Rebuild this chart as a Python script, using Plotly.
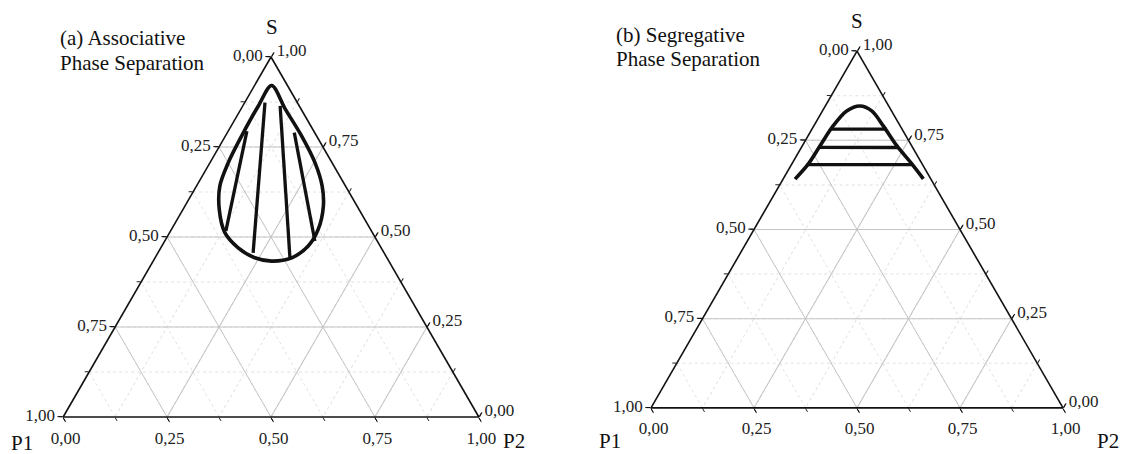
import plotly.graph_objects as go

# ---------------- data (ternary fractions: S = top, P1 = bottom-left, P2 = bottom-right)
tick_values = [0.0, 0.25, 0.5, 0.75, 1.0]
tick_labels = ["0,00", "0,25", "0,50", "0,75", "1,00"]
minor_tick_values = [0.0, 0.125, 0.25, 0.375, 0.5, 0.625, 0.75, 0.875, 1.0]

# (a) associative binodal (teardrop)
assoc_S = [0.921, 0.856, 0.781, 0.706, 0.642, 0.586, 0.521, 0.475, 0.4425, 0.433,
           0.4425, 0.470, 0.512, 0.577, 0.642, 0.706, 0.781, 0.864, 0.921]
assoc_P1 = [0.038, 0.038, 0.036, 0.041, 0.056, 0.081, 0.126, 0.173, 0.229, 0.282,
            0.318, 0.344, 0.355, 0.336, 0.302, 0.250, 0.180, 0.0985, 0.038]
assoc_P2 = [0.041, 0.106, 0.183, 0.253, 0.302, 0.333, 0.353, 0.352, 0.329, 0.285,
            0.240, 0.186, 0.133, 0.087, 0.056, 0.044, 0.039, 0.0375, 0.041]

# (a) tie lines: [start, end]
assoc_tie_S = [[0.517, 0.794], [0.456, 0.873], [0.4425, 0.864], [0.489, 0.790]]
assoc_tie_P1 = [[0.350, 0.161], [0.315, 0.078], [0.233, 0.046], [0.150, 0.049]]
assoc_tie_P2 = [[0.133, 0.045], [0.229, 0.049], [0.324, 0.090], [0.361, 0.161]]

# (b) segregative binodal (open dome)
seg_S = [0.6416, 0.6835, 0.7346, 0.7905, 0.8324, 0.8464, 0.8324, 0.7905, 0.7346, 0.6835, 0.6416]
seg_P1 = [0.330, 0.276, 0.223, 0.162, 0.109, 0.070, 0.048, 0.041, 0.036, 0.025, 0.018]
seg_P2 = [0.029, 0.040, 0.043, 0.047, 0.059, 0.084, 0.1195, 0.1685, 0.229, 0.291, 0.340]

# (b) tie lines
seg_tie_S = [[0.7813, 0.7813], [0.7299, 0.7299], [0.6816, 0.6816]]
seg_tie_P1 = [[0.171, 0.037], [0.229, 0.035], [0.281, 0.026]]
seg_tie_P2 = [[0.048, 0.1815], [0.041, 0.2353], [0.037, 0.292]]

panel_title_lines = [["(a) Associative", "Phase Separation"], ["(b) Segregative", "Phase Separation"]]
axis_titles = ["S", "P1", "P2"]

SERIF = "Liberation Serif, Times New Roman, serif"
W, H = 1133, 454
OFF = 8  # page body margin offset


def px(x):
    return (x - OFF) / W


def py(y):
    return 1 - (y - OFF) / H


fig = go.Figure()


def add_curve(S, P1, P2, subplot, width=3.6, shape="spline"):
    fig.add_trace(go.Scatterternary(
        a=S, b=P1, c=P2, mode="lines", subplot=subplot,
        line=dict(color="#111111", width=width, shape=shape, smoothing=0.9),
        showlegend=False, hoverinfo="skip"))


# empty traces so the underlay (minor grid) subplots are rendered
for sp in ("ternary", "ternary3"):
    fig.add_trace(go.Scatterternary(a=[], b=[], c=[], mode="lines", subplot=sp,
                                    showlegend=False, hoverinfo="skip"))

add_curve(assoc_S, assoc_P1, assoc_P2, "ternary2")
for s, p1, p2 in zip(assoc_tie_S, assoc_tie_P1, assoc_tie_P2):
    add_curve(s, p1, p2, "ternary2", width=3.3, shape="linear")

add_curve(seg_S, seg_P1, seg_P2, "ternary4")
for s, p1, p2 in zip(seg_tie_S, seg_tie_P1, seg_tie_P2):
    add_curve(s, p1, p2, "ternary4", width=3.3, shape="linear")

NO_TITLE = dict(text=" ", font=dict(size=1, color="rgba(0,0,0,0)"))


def minor_axis():
    return dict(tickvals=minor_tick_values, ticktext=[""] * len(minor_tick_values),
                ticks="outside", ticklen=4, tickwidth=1, tickcolor="#222",
                showticklabels=False, showline=False,
                showgrid=True, gridcolor="#e2e2e2", gridwidth=1, griddash="dot",
                title=NO_TITLE, min=0)


def major_axis(labels):
    return dict(tickvals=tick_values, ticktext=labels,
                ticks="outside", ticklen=5, tickwidth=1.2, tickcolor="#111",
                tickfont=dict(family=SERIF, size=17, color="#222"),
                showline=True, linecolor="#111", linewidth=1.6,
                showgrid=True, gridcolor="#c4c4c4", gridwidth=1,
                title=NO_TITLE, min=0)


def px_domain(x0, x1, y_top, y_bot):
    return dict(x=[px(x0), px(x1)], y=[py(y_bot), py(y_top)])


dom_a = px_domain(63, 479, 57, 417)
dom_b = px_domain(651, 1063, 51, 408)

for name, dom in (("ternary", dom_a), ("ternary3", dom_b)):
    fig.update_layout({name: dict(domain=dom, sum=1, bgcolor="white",
                                  aaxis=minor_axis(), baxis=minor_axis(), caxis=minor_axis())})

for name, dom in (("ternary2", dom_a), ("ternary4", dom_b)):
    fig.update_layout({name: dict(domain=dom, sum=1, bgcolor="rgba(0,0,0,0)",
                                  aaxis=major_axis(tick_labels[::-1]),
                                  baxis=major_axis(tick_labels[::-1]),
                                  caxis=major_axis(tick_labels[::-1]))})

# panel titles (two lines each)
title_positions = [(58, [38, 63]), (614, [35, 59])]
for lines, (x, ys) in zip(panel_title_lines, title_positions):
    for text, yc in zip(lines, ys):
        fig.add_annotation(x=px(x), y=py(yc), xref="paper", yref="paper", xanchor="left", yanchor="middle",
                           text=text, showarrow=False, align="left",
                           font=dict(family=SERIF, size=21, color="#111"))

# corner (component) labels
corner_positions = [
    (axis_titles[0], 272, 27), (axis_titles[1], 22, 443), (axis_titles[2], 514, 441),
    (axis_titles[0], 857, 21), (axis_titles[1], 610, 441), (axis_titles[2], 1108, 441),
]
for text, x, yc in corner_positions:
    fig.add_annotation(x=px(x), y=py(yc), xref="paper", yref="paper", xanchor="center", yanchor="middle",
                       text=text, showarrow=False,
                       font=dict(family=SERIF, size=21, color="#111"))

fig.update_layout(width=W, height=H, margin=dict(l=0, r=0, t=0, b=0),
                  paper_bgcolor="white", plot_bgcolor="white", showlegend=False)

fig.write_html("out.html")
